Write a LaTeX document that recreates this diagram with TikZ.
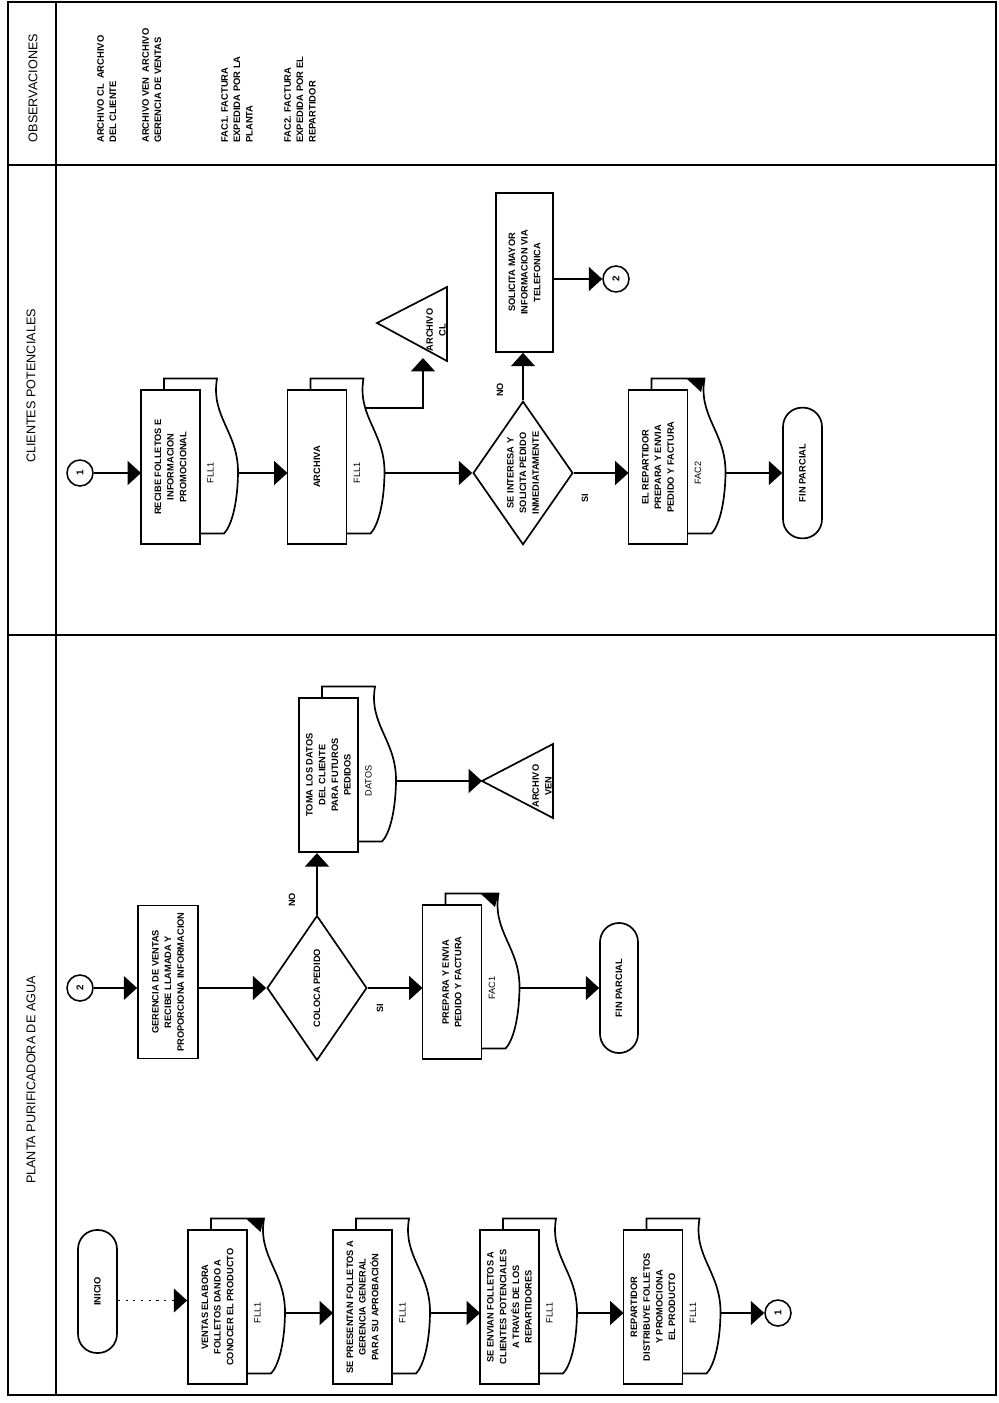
\documentclass[tikz,border=0pt]{standalone}
\usepackage{fontspec}
\usepackage{graphicx}
\setmainfont{Liberation Sans}
\usetikzlibrary{arrows.meta,shapes.geometric,calc}

\tikzset{
  frame/.style={line width=1.3pt},
  box/.style={draw, line width=1.2pt, fill=white, inner sep=0pt},
  doc/.style={line width=1.2pt},
  tri/.style={line width=1.2pt},
  dia/.style={diamond, draw, line width=1.2pt, inner sep=0pt},
  term/.style={rectangle, draw, line width=1.2pt, rounded corners=13.5pt, inner sep=0pt},
  conncirc/.style={circle, draw, line width=1.1pt, minimum size=18.5pt, inner sep=0pt, font=\fontsize{7}{8}\selectfont\bfseries},
  conn/.style={line width=1pt, -{Triangle[length=9.5pt,width=17pt]}},
  dotconn/.style={line width=1.1pt, dash pattern=on 1.5pt off 4pt, -{Triangle[length=9.5pt,width=17pt]}},
  txt/.style={rotate=90, align=center, inner sep=0pt, font=\fontsize{6.6}{9}\selectfont\bfseries},
  lbl/.style={rotate=90, inner sep=0pt, font=\fontsize{6.5}{8}\selectfont},
  hdr/.style={rotate=90, inner sep=0pt, font=\fontsize{9}{11}\selectfont},
  obs/.style={rotate=90, anchor=north west, align=left, inner sep=0pt, font=\fontsize{6.7}{8.8}\selectfont\bfseries},
}

% document symbol: #1 name, #2 cx, #3 cy, #4 text, #5 label, #6 marker
\newcommand{\docnode}[6]{%
  \draw[doc] (#2-6.5,#3-77.5) -- (#2-6.5,#3-88.5) -- (#2+46.5,#3-88.5)
    .. controls (#2+40,#3-50) and (#2+68,#3-35) .. (#2+67.5,#3+6)
    .. controls (#2+67,#3+40) and (#2+60,#3+60) .. (#2+53.5,#3+66.5)
    -- (#2+29.5,#3+66.5);
  \ifnum#6=1 \fill (#2+28.5,#3-88.5) -- (#2+46.5,#3-88.5) -- (#2+43,#3-75) -- cycle;\fi
  \node[box, minimum width=42pt, minimum height=110pt] (#1) at (#2,#3) {};
  \node[txt] (#1-t) at (#1) {#4};
  \node[lbl] (#1-l) at (#2+40,#3+6) {#5};
  \coordinate (#1-in) at (#2-29.5,#3+6);
  \coordinate (#1-out) at (#2+67.5,#3+6);
}

\begin{document}
\begin{tikzpicture}[x=0.7113pt, y=-0.7113pt]
\useasboundingbox (0,0) rectangle (998,1403);

% frame and lanes
\draw[frame] (8,2) rectangle (996,1395);
\draw[frame] (56,2) -- (56,1395);
\draw[frame] (8,165) -- (996,165);
\draw[frame] (8,635) -- (996,635);

% headers
\node[hdr] (h1) at (33,88) {OBSERVACIONES};
\node[hdr] (h2) at (31,386) {CLIENTES POTENCIALES};
\node[hdr] (h3) at (31,1080) {PLANTA PURIFICADORA DE AGUA};

% observaciones
\node[obs] (o1) at (97,143) {ARCHIVO CL\ \ ARCHIVO\\DEL CLIENTE};
\node[obs] (o2) at (142,143) {ARCHIVO VEN\ \ ARCHIVO\\GERENCIA DE VENTAS};
\node[obs] (o3) at (221,143) {FAC1. FACTURA\\EXPEDIDA POR LA\\PLANTA};
\node[obs] (o4) at (284,143) {FAC2. FACTURA\\EXPEDIDA POR EL\\REPARTIDOR};

% ---------------- CLIENTES POTENCIALES ----------------
\node[conncirc] (c1) at (80,473) {\rotatebox{90}{1}};
\docnode{d1}{170.5}{467}{RECIBE FOLLETOS E\\INFORMACION\\PROMOCIONAL}{FLL1}{0}
\docnode{d2}{317}{467}{ARCHIVA}{FLL1}{0}
\coordinate (d2-top) at (365,408);
\draw[tri] (377,323) -- (447,287) -- (447,361) -- cycle;
\node[txt] (acl) at (436,330) {ARCHIVO\\CL};
\coordinate (acl-in) at (423,358);
\node[dia, minimum width=71pt, minimum height=102pt] (q1) at (523,473) {};
\node[txt] (q1-t) at (q1) {SE INTERESA Y\\SOLICITA PEDIDO\\INMEDIATAMENTE};
\node[box, minimum width=40.5pt, minimum height=113pt] (sol) at (524.5,272.5) {};
\node[txt] (sol-t) at (sol) {SOLICITA MAYOR\\INFORMACION VIA\\TELEFONICA};
\node[conncirc] (c2) at (616,279) {\rotatebox{90}{2}};
\docnode{d3}{658}{467}{EL REPARTIDOR\\PREPARA Y ENVIA\\PEDIDO Y FACTURA}{FAC2}{1}
\node[term, minimum width=27.7pt, minimum height=93pt] (f1) at (802.5,473) {};
\node[txt] (f1-t) at (f1) {FIN PARCIAL};
\node[lbl] (no1) at (500,390) {\bfseries NO};
\node[lbl] (si1) at (585,498) {\bfseries SI};

\draw[conn] (c1) -- (d1-in);
\draw[conn] (d1-out) -- (d2-in);
\draw[conn] (d2-top) -| (acl-in);
\draw[conn] (d2-out) -- (q1.west);
\draw[conn] (q1.north) -- (q1.north |- sol.south);
\draw[conn] (sol.east |- c2) -- (c2.west);
\draw[conn] (q1.east) -- (d3-in);
\draw[conn] (d3-out) -- (f1.west);

% ---------------- PLANTA: upper row ----------------
\node[conncirc] (c2b) at (80,988) {\rotatebox{90}{2}};
\node[box, minimum width=42.7pt, minimum height=109pt] (ger) at (168,982) {};
\node[txt] (ger-t) at (ger) {GERENCIA DE VENTAS\\RECIBE LLAMADA Y\\PROPORCIONA INFORMACION};
\node[dia, minimum width=71pt, minimum height=103pt] (q2) at (317,988) {};
\node[txt] (q2-t) at (q2) {COLOCA PEDIDO};
\docnode{d4}{328.5}{775}{TOMA LOS DATOS\\DEL CLIENTE\\PARA FUTUROS\\PEDIDOS}{DATOS}{0}
\draw[tri] (482,781) -- (553,744) -- (553,818) -- cycle;
\node[txt] (aven-t) at (542,786) {ARCHIVO\\VEN};
\coordinate (aven) at (482,781);
\docnode{d5}{452}{982}{PREPARA Y ENVIA\\PEDIDO Y FACTURA}{FAC1}{1}
\node[term, minimum width=27pt, minimum height=92.5pt] (f2) at (619,988) {};
\node[txt] (f2-t) at (f2) {FIN PARCIAL};
\node[lbl] (no2) at (292,900) {\bfseries NO};
\node[lbl] (si2) at (380,1008) {\bfseries SI};

\draw[conn] (c2b) -- (c2b -| ger.west);
\draw[conn] (q2.west -| ger.east) -- (q2.west);
\draw[conn] (q2.north) -- (q2.north |- d4.south);
\draw[conn] (d4-out) -- (aven);
\draw[conn] (q2.east) -- (d5-in);
\draw[conn] (d5-out) -- (f2.west);

% ---------------- PLANTA: lower row ----------------
\node[term, minimum width=27.7pt, minimum height=87.5pt] (ini) at (97.5,1291.5) {};
\node[txt] (ini-t) at (ini) {INICIO};
\docnode{d6}{217.5}{1307}{VENTAS ELABORA\\FOLLETOS DANDO A\\CONOCER EL PRODUCTO}{FLL1}{1}
\docnode{d7}{362.5}{1307}{SE PRESENTAN FOLLETOS A\\GERENCIA GENERAL\\PARA SU APROBACIÓN}{FLL1}{0}
\docnode{d8}{509.5}{1307}{SE ENVIAN FOLLETOS A\\CLIENTES POTENCIALES\\A TRAVÉS DE LOS\\REPARTIDORES}{FLL1}{0}
\docnode{d9}{653}{1307}{REPARTIDOR\\DISTRIBUYE FOLLETOS\\Y PROMOCIONA\\EL PRODUCTO}{FLL1}{0}
\node[conncirc] (c1b) at (778,1313) {\rotatebox{90}{1}};

\draw[dotconn] ([yshift=-6.4pt]ini.east) -- ([yshift=-6.4pt]ini.east -| d6.west);
\draw[conn] (d6-out) -- (d7-in);
\draw[conn] (d7-out) -- (d8-in);
\draw[conn] (d8-out) -- (d9-in);
\draw[conn] (d9-out) -- (c1b.west);
\end{tikzpicture}
\end{document}
